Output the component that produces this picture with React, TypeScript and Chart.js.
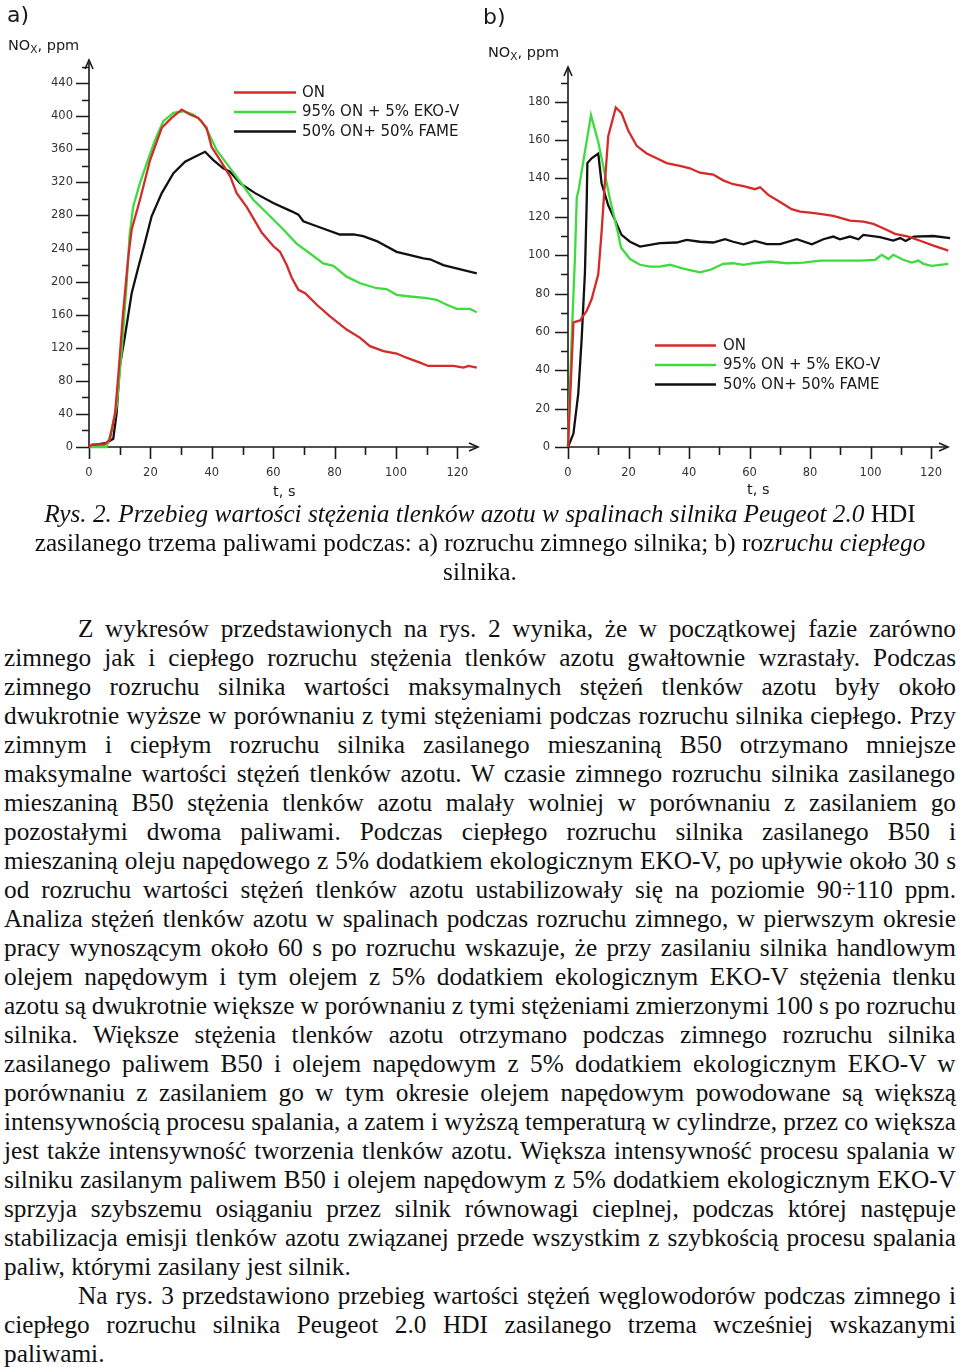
import React, { useEffect, useRef, useMemo } from 'react';
import { Chart, registerables } from 'chart.js';

Chart.register(...registerables);

// ---------- DATA: a) cold start ----------
const coldOnT = [0, 1, 5, 6.8, 8.5, 9.6, 11.1, 12.8, 13.9, 16.6, 19.9, 23.7, 26.9, 30.2, 32.9, 35.6, 38.3, 39.9, 42.7, 46, 48.1, 51.4, 56.3, 60, 62.2, 64.4, 66, 68.2, 70.4, 74.2, 78.5, 83.9, 88.3, 91.5, 95.9, 100.2, 103.4, 107.8, 110.5, 118.7, 122, 123.6, 126.3];
const coldOnV = [0, 3, 3, 9, 41, 89, 162, 230, 263, 299, 347, 386, 398, 408, 402, 398, 386, 363, 347, 327, 307, 290, 259, 243, 236, 220, 205, 190, 186, 172, 158, 142, 132, 122, 116, 113, 108, 102, 98, 98, 96, 98, 96];

const coldEkoT = [0, 5.7, 7.4, 9, 10.7, 12.3, 13.2, 14.4, 16.6, 18.8, 21.5, 24.2, 27.5, 30.7, 34, 36.7, 38.9, 41.6, 44.8, 46, 49.2, 53.5, 57.9, 63.3, 67.6, 72, 76.3, 79.6, 83.9, 88.3, 93.7, 96.9, 100.2, 104.6, 110, 113.2, 116.5, 119.8, 124.1, 126.3];
const coldEkoV = [0, 0, 21, 49, 118, 200, 255, 291, 319, 343, 371, 394, 404, 406, 402, 394, 380, 359, 343, 337, 321, 299, 283, 263, 246, 234, 222, 219, 206, 198, 192, 191, 184, 182, 180, 178, 172, 167, 167, 163];

const coldFameT = [0, 1, 5.7, 7.9, 9, 10, 11.7, 13.9, 16.1, 18.2, 20.4, 23.7, 27.5, 31.3, 34.5, 37.8, 40.5, 43.7, 45.9, 49.2, 54.1, 60, 66, 68.2, 69.8, 74.2, 81.7, 86.1, 89.3, 93.7, 100.2, 104.6, 108.9, 111.1, 115.4, 122, 126.3];
const coldFameV = [0, 2, 5, 10, 41, 97, 134, 186, 218, 247, 279, 307, 331, 345, 351, 357, 347, 337, 333, 319, 307, 295, 285, 281, 273, 267, 257, 257, 255, 249, 236, 232, 228, 227, 220, 214, 210];

// ---------- DATA: b) warm start ----------
const warmOnT = [0, 1.8, 4, 6.2, 7.8, 10, 11.1, 12.2, 13.3, 15.8, 17.7, 19.9, 22.7, 26, 29.3, 32.6, 37, 40.3, 43.6, 48, 51.3, 54.6, 58, 61.8, 63.5, 66.2, 69, 71.7, 73.9, 76.7, 80, 83.3, 87.7, 93.2, 97.6, 100.9, 104.2, 108.1, 112.5, 116.4, 120.8, 125.7];
const warmOnV = [0, 65, 66, 71, 77, 90, 112, 138, 162, 177, 174, 165, 157, 153, 150.5, 148, 146.5, 145.3, 143, 142, 139, 137, 136, 134.4, 135.4, 131.4, 128.8, 126.2, 124, 122.7, 122.2, 121.5, 120.5, 118, 117.5, 116.3, 114, 111.1, 109.7, 107.5, 105, 102.4];

const warmEkoT = [0, 1.2, 2.3, 2.9, 3.5, 7.6, 10, 11.7, 13.9, 16.6, 17.5, 20.5, 23.8, 27.1, 30.4, 33.7, 38.1, 43.6, 46.9, 51.3, 54.6, 58, 61.3, 66.8, 72.3, 77.8, 83.3, 89.9, 96.5, 101.5, 103.7, 105.9, 107.5, 110.8, 113.6, 115.8, 117.5, 120.2, 123, 125.7];
const warmEkoV = [0, 56, 99, 130, 134, 173, 159, 146, 129, 111, 104, 98, 95, 94, 94, 95, 93, 91, 92.3, 95.5, 95.8, 95, 95.8, 96.7, 95.8, 96.1, 97.2, 97.2, 97.2, 97.6, 100.2, 98, 100.2, 97.6, 96.1, 97.2, 95.5, 94.4, 95, 95.5];

const warmFameT = [0, 1.8, 3.4, 4.5, 5.6, 6.2, 6.4, 7.8, 10, 11.1, 13.3, 15.5, 17.7, 20.5, 23.8, 27.1, 30.4, 35.9, 39.2, 43.6, 48, 51.9, 54.6, 58, 61.8, 65.7, 70.1, 75.6, 80.6, 84.4, 87.7, 89.9, 93.2, 96, 97.6, 103.1, 107.5, 109.8, 111.6, 114.3, 120.8, 126.3];
const warmFameV = [0, 7, 28, 56, 91, 129, 148, 150.5, 153, 137.5, 126, 118.4, 110.6, 107, 104.5, 105.4, 106.3, 106.6, 108, 107, 106.6, 108.3, 107, 105.7, 107.4, 105.8, 105.8, 108.3, 105.7, 108.3, 109.7, 108.3, 109.7, 108.3, 110.6, 109.4, 107.6, 108.9, 107.4, 109.7, 110, 108.9];

const seriesLabels = ['ON', '95% ON + 5% EKO-V', '50% ON+ 50% FAME'];
const seriesColors = ['#d42a2a', '#3ddc3d', '#111111'];

// ---------- TEXT ----------
const captionLines = [
  [{ t: 'Rys. 2. Przebieg wartości stężenia tlenków azotu w spalinach silnika Peugeot 2.0', i: true }, { t: ' HDI', i: false }],
  [{ t: 'zasilanego trzema paliwami podczas: a) rozruchu zimnego silnika; b) roz', i: false }, { t: 'ruchu ciepłego', i: true }],
  [{ t: 'silnika.', i: false }],
];

const bodyLines = [
  { s: 'Z wykresów przedstawionych na rys. 2 wynika, że w początkowej fazie zarówno', ind: true, last: false },
  { s: 'zimnego jak i ciepłego rozruchu stężenia tlenków azotu gwałtownie wzrastały. Podczas', ind: false, last: false },
  { s: 'zimnego rozruchu silnika wartości maksymalnych stężeń tlenków azotu były około', ind: false, last: false },
  { s: 'dwukrotnie wyższe w porównaniu z tymi stężeniami podczas rozruchu silnika ciepłego. Przy', ind: false, last: false },
  { s: 'zimnym i ciepłym rozruchu silnika zasilanego mieszaniną B50 otrzymano mniejsze', ind: false, last: false },
  { s: 'maksymalne wartości stężeń tlenków azotu. W czasie zimnego rozruchu silnika zasilanego', ind: false, last: false },
  { s: 'mieszaniną B50 stężenia tlenków azotu malały wolniej w porównaniu z zasilaniem go', ind: false, last: false },
  { s: 'pozostałymi dwoma paliwami. Podczas ciepłego rozruchu silnika zasilanego B50 i', ind: false, last: false },
  { s: 'mieszaniną oleju napędowego z 5% dodatkiem ekologicznym EKO-V, po upływie około 30 s', ind: false, last: false },
  { s: 'od rozruchu wartości stężeń tlenków azotu ustabilizowały się na poziomie 90÷110 ppm.', ind: false, last: false },
  { s: 'Analiza stężeń tlenków azotu w spalinach podczas rozruchu zimnego, w pierwszym okresie', ind: false, last: false },
  { s: 'pracy wynoszącym około 60 s po rozruchu wskazuje, że przy zasilaniu silnika handlowym', ind: false, last: false },
  { s: 'olejem napędowym i tym olejem z 5% dodatkiem ekologicznym EKO-V stężenia tlenku', ind: false, last: false },
  { s: 'azotu są dwukrotnie większe w porównaniu z tymi stężeniami zmierzonymi 100 s po rozruchu', ind: false, last: false },
  { s: 'silnika. Większe stężenia tlenków azotu otrzymano podczas zimnego rozruchu silnika', ind: false, last: false },
  { s: 'zasilanego paliwem B50 i olejem napędowym z 5% dodatkiem ekologicznym EKO-V w', ind: false, last: false },
  { s: 'porównaniu z zasilaniem go w tym okresie olejem napędowym powodowane są większą', ind: false, last: false },
  { s: 'intensywnością procesu spalania, a zatem i wyższą temperaturą w cylindrze, przez co większa', ind: false, last: false },
  { s: 'jest także intensywność tworzenia tlenków azotu. Większa intensywność procesu spalania w', ind: false, last: false },
  { s: 'silniku zasilanym paliwem B50 i olejem napędowym z 5% dodatkiem ekologicznym EKO-V', ind: false, last: false },
  { s: 'sprzyja szybszemu osiąganiu przez silnik równowagi cieplnej, podczas której następuje', ind: false, last: false },
  { s: 'stabilizacja emisji tlenków azotu związanej przede wszystkim z szybkością procesu spalania', ind: false, last: false },
  { s: 'paliw, którymi zasilany jest silnik.', ind: false, last: true },
  { s: 'Na rys. 3 przedstawiono przebieg wartości stężeń węglowodorów podczas zimnego i', ind: true, last: false },
  { s: 'ciepłego rozruchu silnika Peugeot 2.0 HDI zasilanego trzema wcześniej wskazanymi', ind: false, last: false },
  { s: 'paliwami.', ind: false, last: true },
];

const SANS = '"DejaVu Sans", "Liberation Sans", Arial, sans-serif';
const SERIF = '"Liberation Serif", "Times New Roman", serif';
const BODY_PX = 25.3;
const BASE_OFF = 23;

const pts = (t: number[], v: number[]) => t.map((x, i) => ({ x, y: v[i] }));

const arrowAxes = {
  id: 'arrowAxes',
  beforeDatasetsDraw(chart: any, _a: any, opts: any) {
    const { ctx, chartArea } = chart;
    const { left, right, top, bottom } = chartArea;
    const xs = chart.scales.x;
    const ys = chart.scales.y;
    ctx.save();
    ctx.strokeStyle = '#1a1a1a';
    ctx.lineWidth = 1.6;
    ctx.beginPath();
    ctx.moveTo(left, bottom);
    ctx.lineTo(left, top);
    ctx.moveTo(left, bottom);
    ctx.lineTo(right, bottom);
    ys.ticks.forEach((t: any) => {
      const p = Math.round(ys.getPixelForValue(t.value)) + 0.5;
      const len = t.value % opts.yMajor === 0 ? 13 : 7;
      ctx.moveTo(left - len, p);
      ctx.lineTo(left, p);
    });
    xs.ticks.forEach((t: any) => {
      const p = Math.round(xs.getPixelForValue(t.value)) + 0.5;
      const len = t.value % opts.xMajor === 0 ? 12 : 8;
      ctx.moveTo(p, bottom);
      ctx.lineTo(p, bottom + len);
    });
    ctx.stroke();
    ctx.beginPath();
    ctx.moveTo(left - 4, top + 9);
    ctx.lineTo(left, top);
    ctx.lineTo(left + 4, top + 9);
    ctx.moveTo(right - 9, bottom - 4);
    ctx.lineTo(right, bottom);
    ctx.lineTo(right - 9, bottom + 4);
    ctx.stroke();
    ctx.restore();
  },
};

const lineLegend = {
  id: 'lineLegend',
  afterDatasetsDraw(chart: any, _a: any, opts: any) {
    const { ctx } = chart;
    ctx.save();
    ctx.font = `15px ${SANS}`;
    ctx.textBaseline = 'middle';
    ctx.textAlign = 'left';
    chart.data.datasets.forEach((ds: any, i: number) => {
      const y = opts.ys[i];
      ctx.strokeStyle = ds.borderColor;
      ctx.lineWidth = 2.4;
      ctx.beginPath();
      ctx.moveTo(opts.x1, y);
      ctx.lineTo(opts.x2, y);
      ctx.stroke();
      ctx.fillStyle = '#1a1a1a';
      ctx.fillText(ds.label, opts.tx, y + 0.5);
    });
    ctx.restore();
  },
};

type PanelProps = {
  series: { t: number[]; v: number[] }[];
  xMax: number;
  yMax: number;
  yStep: number;
  yLabelStep: number;
  yWidth: number;
  yPad: number;
  padTop: number;
  padRight: number;
  legend: { x1: number; x2: number; tx: number; ys: number[] };
};

function Panel(p: PanelProps) {
  const ref = useRef<HTMLCanvasElement | null>(null);
  useEffect(() => {
    if (!ref.current) return;
    const chart = new Chart(ref.current, {
      type: 'line',
      data: {
        datasets: p.series.map((s, i) => ({
          label: seriesLabels[i],
          data: pts(s.t, s.v),
          borderColor: seriesColors[i],
          backgroundColor: seriesColors[i],
          borderWidth: 2.3,
          pointRadius: 0,
          tension: 0,
          fill: false,
          clip: false as any,
        })),
      },
      options: {
        responsive: false,
        animation: false,
        devicePixelRatio: 1,
        layout: { padding: { top: p.padTop, right: p.padRight, left: 0, bottom: 0 } },
        plugins: {
          legend: { display: false },
          tooltip: { enabled: false },
          arrowAxes: { yMajor: p.yLabelStep, xMajor: 20 },
          lineLegend: p.legend,
        } as any,
        scales: {
          x: {
            type: 'linear',
            min: 0,
            max: p.xMax,
            grid: { display: false, drawTicks: false },
            border: { display: false },
            ticks: {
              stepSize: 10,
              includeBounds: false,
              autoSkip: false,
              maxRotation: 0,
              padding: 19,
              color: '#333',
              font: { family: SANS, size: 11.5 },
              callback: (v: any) => (Number(v) % 20 === 0 ? String(v) : ''),
            },
            afterFit: (s: any) => {
              s.height = 53;
              s.paddingLeft = 0;
              s.paddingRight = 0;
            },
          },
          y: {
            type: 'linear',
            min: 0,
            max: p.yMax,
            grid: { display: false, drawTicks: false },
            border: { display: false },
            ticks: {
              stepSize: p.yStep,
              includeBounds: false,
              autoSkip: false,
              padding: p.yPad,
              color: '#333',
              font: { family: SANS, size: 11.5 },
              callback: (v: any) => (Number(v) % p.yLabelStep === 0 ? String(v) : ''),
            },
            afterFit: (s: any) => {
              s.width = p.yWidth;
              s.paddingTop = 0;
              s.paddingBottom = 0;
            },
          },
        },
      } as any,
      plugins: [arrowAxes, lineLegend],
    });
    return () => chart.destroy();
  }, []);
  return <canvas ref={ref} width={480} height={500} style={{ display: 'block', width: 480, height: 500 }} />;
}

const abs = (left: number, top: number, extra: React.CSSProperties = {}): React.CSSProperties => ({
  position: 'absolute',
  left,
  top,
  whiteSpace: 'nowrap',
  ...extra,
});

function NoxLabel({ left, top }: { left: number; top: number }) {
  return (
    <div style={abs(left, top, { font: `14.5px ${SANS}`, lineHeight: 1, color: '#1a1a1a' })}>
      NO<span style={{ fontSize: 10.5, position: 'relative', top: 3 }}>X</span>, ppm
    </div>
  );
}

export default function App() {
  const spacings = useMemo(() => {
    const c = document.createElement('canvas');
    const ctx = c.getContext('2d')!;
    ctx.font = `${BODY_PX}px ${SERIF}`;
    return bodyLines.map((l) => {
      if (l.last) return 0;
      const w = l.ind ? 952 - 74 : 952;
      const nat = ctx.measureText(l.s).width;
      const spaces = (l.s.match(/ /g) || []).length;
      return spaces ? (w - nat) / spaces : 0;
    });
  }, []);

  return (
    <div style={{ position: 'absolute', left: 0, top: 0, width: 960, height: 1367, overflow: 'hidden', background: '#fff' }}>
      <div style={{ position: 'absolute', left: 0, top: 0 }}>
        <Panel
          series={[
            { t: coldOnT, v: coldOnV },
            { t: coldEkoT, v: coldEkoV },
            { t: coldFameT, v: coldFameV },
          ]}
          xMax={126.7}
          yMax={468}
          yStep={20}
          yLabelStep={40}
          yWidth={89}
          yPad={16}
          padTop={60}
          padRight={2}
          legend={{ x1: 234, x2: 296, tx: 302, ys: [92.5, 112, 131.5] }}
        />
      </div>
      <div style={{ position: 'absolute', left: 480, top: 0 }}>
        <Panel
          series={[
            { t: warmOnT, v: warmOnV },
            { t: warmEkoT, v: warmEkoV },
            { t: warmFameT, v: warmFameV },
          ]}
          xMax={125.6}
          yMax={198.1}
          yStep={10}
          yLabelStep={20}
          yWidth={88}
          yPad={18}
          padTop={67}
          padRight={12}
          legend={{ x1: 175, x2: 236, tx: 243, ys: [345.5, 365, 384.5] }}
        />
      </div>

      <div style={abs(7, 4, { font: `22px ${SANS}`, lineHeight: 1, color: '#1a1a1a' })}>a)</div>
      <div style={abs(483, 6, { font: `22px ${SANS}`, lineHeight: 1, color: '#1a1a1a' })}>b)</div>
      <NoxLabel left={8} top={38} />
      <NoxLabel left={488} top={45} />
      <div style={abs(273, 484, { font: `14.5px ${SANS}`, lineHeight: 1, color: '#1a1a1a' })}>t, s</div>
      <div style={abs(747, 482, { font: `14.5px ${SANS}`, lineHeight: 1, color: '#1a1a1a' })}>t, s</div>

      {captionLines.map((segs, k) => (
        <div
          key={'c' + k}
          style={{
            position: 'absolute',
            left: 0,
            width: 960,
            top: 522 + k * 29 - BASE_OFF,
            height: 29,
            lineHeight: '29px',
            textAlign: 'center',
            whiteSpace: 'nowrap',
            font: `${BODY_PX}px ${SERIF}`,
            color: '#111',
          }}
        >
          {segs.map((s, j) => (
            <span key={j} style={{ fontStyle: s.i ? 'italic' : 'normal' }}>
              {s.t}
            </span>
          ))}
        </div>
      ))}

      {bodyLines.map((l, k) => (
        <div
          key={'b' + k}
          style={{
            position: 'absolute',
            left: l.ind ? 78 : 4,
            width: l.ind ? 952 - 74 : 952,
            top: 637 + k * 29 - BASE_OFF,
            height: 29,
            lineHeight: '29px',
            whiteSpace: 'nowrap',
            wordSpacing: spacings[k],
            font: `${BODY_PX}px ${SERIF}`,
            color: '#111',
          }}
        >
          {l.s}
        </div>
      ))}
    </div>
  );
}
